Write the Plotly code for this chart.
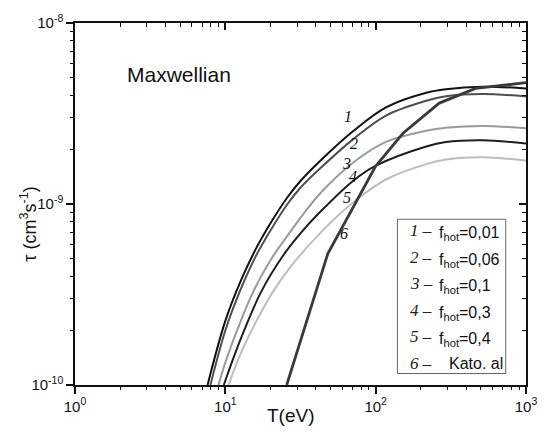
import math
import plotly.graph_objects as go

# ---- data (T in eV, tau in cm^3 s^-1) ----
T1 = [7.62, 10, 12.6, 15.8, 20, 25.9, 31.6, 43, 71.3, 118, 217, 293, 514, 1000]
tau1 = [1.0e-10, 2.26e-10, 3.72e-10, 5.56e-10, 7.85e-10, 1.09e-9, 1.34e-9, 1.74e-9,
        2.54e-9, 3.43e-9, 4.12e-9, 4.31e-9, 4.45e-9, 4.35e-9]

T2 = [7.96, 10, 12.6, 15.8, 20, 25.9, 31.6, 43, 71.3, 118, 217, 293, 514, 1000]
tau2 = [1.0e-10, 2.0e-10, 3.35e-10, 5.07e-10, 7.16e-10, 1.0e-9, 1.23e-9, 1.58e-9,
        2.29e-9, 3.09e-9, 3.72e-9, 3.94e-9, 4.05e-9, 3.93e-9]

T3 = [9.0, 10, 12.6, 15.3, 20, 26.7, 33.4, 43, 71.3, 118, 217, 293, 514, 1000]
tau3 = [1.0e-10, 1.33e-10, 2.23e-10, 3.27e-10, 4.90e-10, 6.92e-10, 8.91e-10, 1.15e-9,
        1.70e-9, 2.21e-9, 2.54e-9, 2.64e-9, 2.70e-9, 2.62e-9]

T4 = [9.77, 12.6, 17.3, 24, 31.8, 42, 71.3, 98.9, 217, 293, 514, 1000]
tau4 = [1.0e-10, 1.78e-10, 3.27e-10, 5.13e-10, 6.92e-10, 8.91e-10, 1.35e-9, 1.62e-9,
        2.08e-9, 2.20e-9, 2.25e-9, 2.16e-9]

T5 = [10.5, 12.6, 15.8, 20.7, 28.2, 44, 58.2, 79.4, 118, 217, 293, 514, 1000]
tau5 = [1.0e-10, 1.48e-10, 2.19e-10, 3.27e-10, 4.68e-10, 7.08e-10, 8.87e-10, 1.10e-9,
        1.37e-9, 1.66e-9, 1.76e-9, 1.81e-9, 1.74e-9]

T6 = [25.6, 48, 100, 152, 265, 462, 1000]
tau6 = [1.0e-10, 5.3e-10, 1.62e-9, 2.46e-9, 3.61e-9, 4.35e-9, 4.68e-9]

curve_ids = ["1", "2", "3", "4", "5", "6"]
legend_texts = ["f<sub>hot</sub>=0,01", "f<sub>hot</sub>=0,06", "f<sub>hot</sub>=0,1",
                "f<sub>hot</sub>=0,3", "f<sub>hot</sub>=0,4", "Kato. al"]
# positions of the italic curve labels (T, tau)
label_T = [65.8, 71.9, 64.1, 70.5, 64.1, 61.8]
label_tau = [3.03e-9, 2.17e-9, 1.68e-9, 1.41e-9, 1.09e-9, 6.9e-10]

x_tickvals = [1, 10, 100, 1000]
x_ticktext = ["10<sup>0</sup>", "10<sup>1</sup>", "10<sup>2</sup>", "10<sup>3</sup>"]
y_tickvals = [1e-10, 1e-9, 1e-8]
y_ticktext = ["10<sup>-10</sup>", "10<sup>-9</sup>", "10<sup>-8</sup>"]
x_title = "T(eV)"
y_title = "τ (cm<sup>3</sup>s<sup>-1</sup>)"

series = [(T1, tau1), (T2, tau2), (T3, tau3), (T4, tau4), (T5, tau5), (T6, tau6)]
colors = ["#111111", "#4f4f4f", "#9a9a9a", "#1e1e1e", "#bdbdbd", "#3a3a3a"]
widths = [2.0, 2.0, 2.0, 2.0, 2.0, 2.8]
shapes_line = ["spline", "spline", "spline", "spline", "spline", "linear"]

fig = go.Figure()
for (tx, ty), c, w, s in zip(series, colors, widths, shapes_line):
    fig.add_trace(go.Scatter(x=tx, y=ty, mode="lines",
                             line=dict(color=c, width=w, shape=s, smoothing=1.0),
                             showlegend=False, hoverinfo="skip"))

# empty traces that activate the extra tick axes (minor ticks, top and right frames)
for k in (2, 3, 4):
    fig.add_trace(go.Scatter(x=[], y=[], xaxis="x%d" % k, yaxis="y%d" % k,
                             showlegend=False, hoverinfo="skip"))

L, R, TOP, B = 75, 18, 16, 54
W, H = 549, 439
pw, ph = W - L - R, H - TOP - B


def px(x):
    return (x - L) / pw


def py(y):
    return (H - B - y) / ph


x_minor = [m * 10 ** k for k in range(0, 3) for m in range(2, 10)]
y_minor = [m * 10.0 ** k for k in (-10, -9) for m in range(2, 10)]

axis_font = dict(family="Liberation Sans, Arial", size=15, color="#111")
TC = "#111111"


def tick_axis(kind, vals, side, direction, length, width, anchor, showline):
    rng = [0, 3] if kind == "x" else [-10, -8]
    return dict(type="log", range=rng, tickmode="array", tickvals=vals,
                showticklabels=False, ticks=direction, ticklen=length, tickwidth=width, tickcolor=TC,
                showgrid=False, zeroline=False, showline=showline, linecolor=TC, linewidth=1.5,
                side=side, anchor=anchor, overlaying=kind)


fig.update_layout(
    width=W, height=H, margin=dict(l=L, r=R, t=TOP, b=B),
    paper_bgcolor="white", plot_bgcolor="white",
    xaxis=dict(type="log", range=[0, 3], tickmode="array", tickvals=x_tickvals, ticktext=x_ticktext,
               ticks="outside", ticklen=7, tickwidth=1.6, tickcolor=TC,
               showgrid=False, zeroline=False, showline=True, linecolor=TC, linewidth=1.5,
               tickfont=axis_font),
    yaxis=dict(type="log", range=[-10, -8], tickmode="array", tickvals=y_tickvals, ticktext=y_ticktext,
               ticks="outside", ticklen=7, tickwidth=1.6, tickcolor=TC,
               showgrid=False, zeroline=False, showline=True, linecolor=TC, linewidth=1.5,
               tickfont=axis_font),
    # top / right frame with inward major ticks
    xaxis2=tick_axis("x", x_tickvals, "top", "inside", 7, 1.6, "y", True),
    yaxis2=tick_axis("y", y_tickvals, "right", "inside", 7, 1.6, "x", True),
    # minor ticks bottom / left (outside)
    xaxis3=tick_axis("x", x_minor, "bottom", "outside", 4, 1.3, "y", False),
    yaxis3=tick_axis("y", y_minor, "left", "outside", 4, 1.3, "x", False),
    # minor ticks top / right (inside)
    xaxis4=tick_axis("x", x_minor, "top", "inside", 4, 1.3, "y", False),
    yaxis4=tick_axis("y", y_minor, "right", "inside", 4, 1.3, "x", False),
)

# axis titles
fig.add_annotation(x=px(293), y=py(416), xref="paper", yref="paper", xanchor="center", yanchor="middle",
                   text=x_title, showarrow=False,
                   font=dict(family="Liberation Sans, Arial", size=19, color="#111"))
fig.add_annotation(x=px(28), y=py(221), xref="paper", yref="paper", xanchor="center", yanchor="middle",
                   text=y_title, showarrow=False, textangle=-90,
                   font=dict(family="Liberation Sans, Arial", size=18, color="#111"))

# "Maxwellian"
fig.add_annotation(x=px(126), y=py(68), xref="paper", yref="paper", xanchor="left", yanchor="middle",
                   text="Maxwellian", showarrow=False,
                   font=dict(family="Liberation Sans, Arial", size=21, color="#111"))

# curve labels
for cid, lt, lv in zip(curve_ids, label_T, label_tau):
    fig.add_annotation(x=math.log10(lt), y=math.log10(lv), xref="x", yref="y", text="<i>%s</i>" % cid,
                       showarrow=False, xanchor="center", yanchor="middle",
                       font=dict(family="Liberation Serif, Times New Roman", size=16, color="#111"))

# legend box
fig.add_shape(type="rect", xref="paper", yref="paper", x0=px(401), x1=px(510.5), y0=py(373.3), y1=py(216),
              line=dict(color="#666", width=1), fillcolor="white", layer="above")

row_y0, row_dy = 228, 27
for i, (cid, txt) in enumerate(zip(curve_ids, legend_texts)):
    yy = row_y0 + i * row_dy
    fig.add_annotation(x=px(412), y=py(yy), xref="paper", yref="paper", xanchor="left", yanchor="middle",
                       text="<i>%s</i> –" % cid, showarrow=False,
                       font=dict(family="Liberation Serif, Times New Roman", size=17, color="#222"))
    xs = 441 if i < 5 else 451
    fig.add_annotation(x=px(xs), y=py(yy + (3 if i < 5 else 0)), xref="paper", yref="paper", xanchor="left",
                       yanchor="middle", text=txt, showarrow=False,
                       font=dict(family="Liberation Sans, Arial", size=16, color="#111"))

fig.write_html("out.html")
